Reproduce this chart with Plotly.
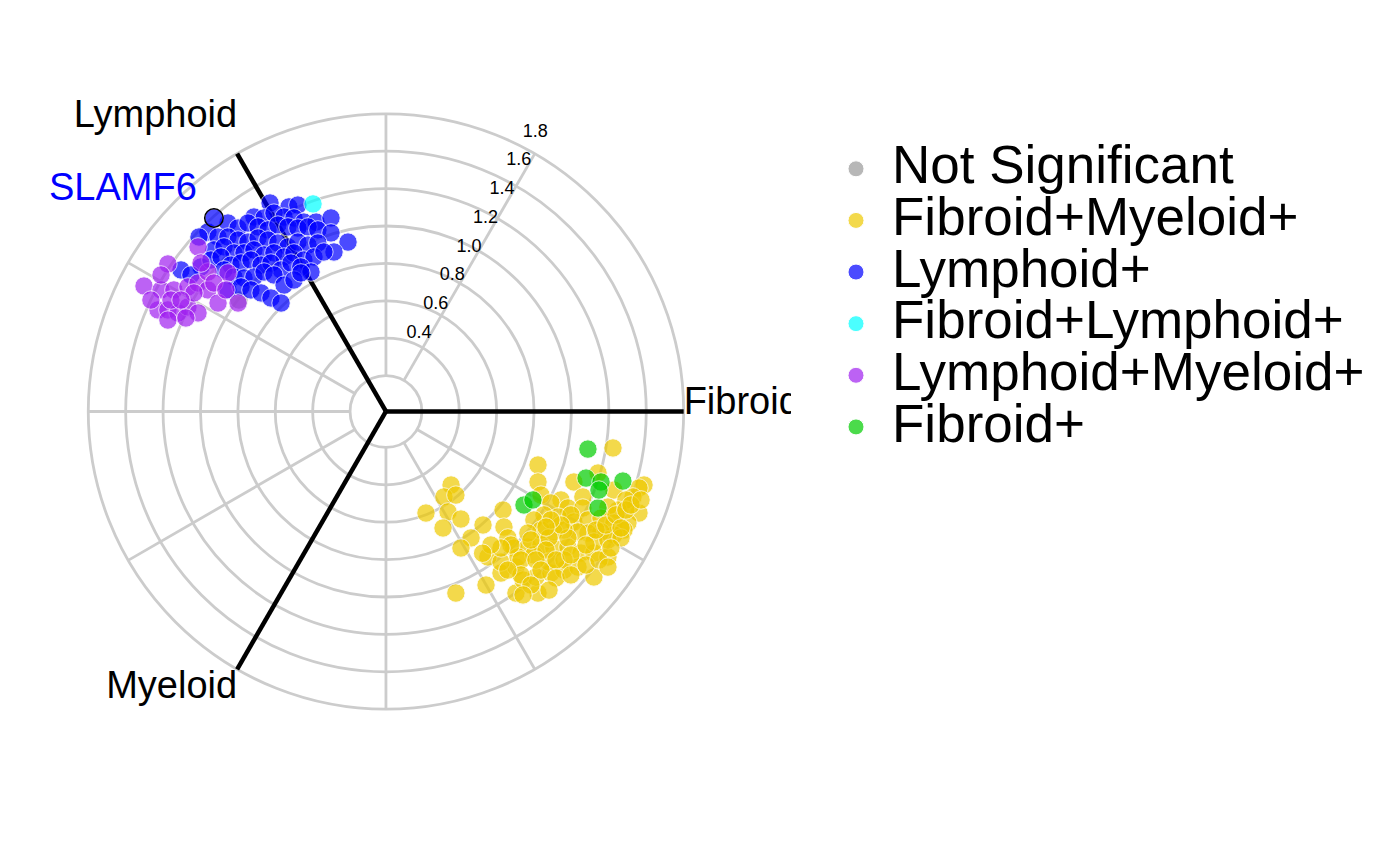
import math
import plotly.graph_objects as go

# ---------------- data (grid units, centre of the radial plot = 0,0) ----------------
categories = ["Not Significant", "Fibroid+Myeloid+", "Lymphoid+",
              "Fibroid+Lymphoid+", "Lymphoid+Myeloid+", "Fibroid+"]
colours = ["#999999", "#EEC900", "#0000FF", "#00FFFF", "#A020F0", "#00CD00"]

ns_x = [-0.786]
ns_y = [0.596]

fm_x = [1.214, 0.813, 0.348, 0.310, 0.374, 0.214, 0.332, 0.401, 0.305, 0.626,
        0.519, 0.631, 0.455, 0.401, 0.652, 0.545, 0.374, 0.535, 0.615, 0.695,
        0.684, 0.759, 0.829, 0.898, 0.973, 1.043, 1.112, 1.187, 0.695, 0.813,
        0.733, 0.802, 0.882, 0.952, 1.027, 1.112, 0.615, 0.872, 0.952, 0.813,
        0.829, 1.005, 1.134, 1.219, 1.380, 1.353, 1.321, 1.283, 1.353, 1.241,
        1.187, 1.053, 0.936, 0.882, 0.973, 1.053, 0.920, 0.845, 0.791, 1.005,
        1.080, 1.150, 1.219, 1.294, 1.273, 1.219, 1.150, 1.080, 1.027, 0.952,
        0.898, 0.829, 0.759, 0.872, 0.973, 1.112, 1.187, 1.257, 0.706, 0.791,
        0.668, 0.722, 0.775, 0.856, 0.909, 0.989, 1.070, 1.123, 1.176, 1.230,
        1.283, 0.989, 0.936, 0.882, 0.856, 0.802, 0.829, 0.909, 0.989, 1.070,
        1.139, 1.203, 1.257, 1.310, 1.364, 0.722, 0.775, 0.872, 0.615, 0.561,
        0.652, 0.733, 1.187, 0.517]
fm_y = [-0.195, -0.286, -0.393, -0.457, -0.447, -0.543, -0.537, -0.575, -0.623, -0.527,
        -0.607, -0.618, -0.676, -0.730, -0.676, -0.778, -0.971, -0.928, -0.864, -0.832,
        -0.730, -0.725, -0.714, -0.730, -0.725, -0.757, -0.757, -0.778, -0.971, -0.971,
        -0.901, -0.885, -0.864, -0.848, -0.832, -0.885, -0.805, -0.805, -0.794, -0.377,
        -0.447, -0.377, -0.329, -0.420, -0.393, -0.409, -0.457, -0.473, -0.543, -0.527,
        -0.511, -0.457, -0.473, -0.489, -0.516, -0.516, -0.564, -0.553, -0.580, -0.591,
        -0.580, -0.570, -0.596, -0.596, -0.634, -0.660, -0.644, -0.650, -0.644, -0.634,
        -0.644, -0.634, -0.650, -0.676, -0.676, -0.698, -0.687, -0.676, -0.778, -0.767,
        -0.714, -0.794, -0.687, -0.741, -0.794, -0.767, -0.714, -0.634, -0.607, -0.553,
        -0.527, -0.553, -0.607, -0.580, -0.618, -0.794, -0.848, -0.890, -0.874, -0.821,
        -0.794, -0.730, -0.623, -0.500, -0.473, -0.874, -0.928, -0.955, -0.730, -0.714,
        -0.848, -0.981, -0.832, -0.758]

l_x = [-0.620, -0.519, -0.471, -0.706, -0.652, -0.599, -0.545, -0.492, -0.439, -0.374, -0.294,
       -0.845, -0.791, -0.738, -0.684, -0.631, -0.578, -0.524, -0.471, -0.417, -0.364, -0.294, -0.203, -0.278,
       -0.952, -0.898, -0.845, -0.791, -0.738, -0.684, -0.631, -0.578, -0.524, -0.471, -0.417, -0.364,
       -0.920, -0.866, -0.813, -0.759, -0.706, -0.652, -0.599, -0.545, -0.492, -0.439, -0.385,
       -0.989, -0.936, -0.882, -0.829, -0.775, -0.722, -0.668, -0.615, -0.561, -0.508, -0.455, -0.401,
       -1.096, -1.043, -0.866, -0.813, -0.759, -0.706, -0.652, -0.599, -0.545, -0.492,
       -0.845, -0.775, -0.722, -0.668, -0.615, -0.561,
       -0.455, -0.332, -1.000, -0.920]
l_y = [1.115, 1.094, 1.104, 1.040, 1.035, 1.061, 1.040, 1.035, 1.013, 1.013, 1.035,
       1.008, 0.981, 1.008, 0.987, 0.971, 0.997, 0.987, 0.981, 0.987, 0.971, 0.955, 0.906, 0.853,
       0.960, 0.933, 0.933, 0.917, 0.906, 0.928, 0.917, 0.901, 0.880, 0.906, 0.890, 0.901,
       0.864, 0.880, 0.848, 0.848, 0.864, 0.837, 0.848, 0.826, 0.848, 0.810, 0.826,
       0.773, 0.810, 0.826, 0.783, 0.794, 0.810, 0.783, 0.794, 0.757, 0.794, 0.773, 0.746,
       0.757, 0.730, 0.757, 0.719, 0.714, 0.719, 0.746, 0.730, 0.676, 0.703,
       0.650, 0.666, 0.650, 0.634, 0.607, 0.580,
       0.741, 0.853, 0.933, 1.035]

fl_x = [-0.390]
fl_y = [1.110]

lm_x = [-1.005, -1.166, -1.294, -1.203, -1.219, -1.166, -1.112, -1.059, -1.005, -1.134,
        -1.059, -1.005, -0.952, -0.898, -0.791, -0.845, -0.952, -0.989, -1.166, -1.027,
        -1.150, -0.920, -1.096, -1.257, -1.203, -1.070, -0.856]
lm_y = [0.880, 0.789, 0.671, 0.650, 0.543, 0.543, 0.527, 0.559, 0.527, 0.650,
        0.666, 0.687, 0.650, 0.580, 0.580, 0.741, 0.746, 0.794, 0.489, 0.634,
        0.596, 0.687, 0.596, 0.596, 0.730, 0.500, 0.650]

f_x = [1.080, 1.070, 1.150, 1.267, 0.738, 0.786, 1.134, 1.139]
f_y = [-0.201, -0.356, -0.377, -0.372, -0.500, -0.473, -0.516, -0.420]

series_x = [ns_x, fm_x, l_x, fl_x, lm_x, f_x]
series_y = [ns_y, fm_y, l_y, fl_y, lm_y, f_y]

label_gene = "SLAMF6"
label_x = -0.920
label_y = 1.035

axis_names = ["Fibroid", "Lymphoid", "Myeloid"]
axis_angles = [0, 120, 240]
r_ticks = [0.4, 0.6, 0.8, 1.0, 1.2, 1.4, 1.6, 1.8]
r_tick_text = ["0.4", "0.6", "0.8", "1.0", "1.2", "1.4", "1.6", "1.8"]

# ---------------- geometry / styling constants ----------------
R_OFFSET = 0.208          # radial value at the plot centre
SPOKES = [60, 90, 150, 180, 210, 270, 300, 330]
TICK_ANGLE = 60
TICK_LABEL_SCALE = 0.887
TICK_LABEL_LIFT = 0.111
FONT = "Liberation Sans, Arial, sans-serif"
GRID = "rgb(204,204,204)"
MARKER_SIZE = 18.5

radii = [t - R_OFFSET for t in r_ticks]
r_in, r_out = radii[0], radii[-1]

fig = go.Figure()

shapes = []
for r in radii:
    shapes.append(dict(type="circle", xref="x", yref="y", x0=-r, y0=-r, x1=r, y1=r,
                       line=dict(color=GRID, width=2.8), layer="below"))
for a in SPOKES:
    c, s = math.cos(math.radians(a)), math.sin(math.radians(a))
    shapes.append(dict(type="line", xref="x", yref="y", x0=r_in * c, y0=r_in * s,
                       x1=r_out * c, y1=r_out * s,
                       line=dict(color=GRID, width=2.8), layer="below"))
for a in axis_angles:
    c, s = math.cos(math.radians(a)), math.sin(math.radians(a))
    shapes.append(dict(type="line", xref="x", yref="y", x0=0, y0=0,
                       x1=r_out * c, y1=r_out * s,
                       line=dict(color="black", width=4.5), layer="below"))

# points
for name, col, xs, ys in zip(categories, colours, series_x, series_y):
    fig.add_trace(go.Scatter(
        x=xs, y=ys, mode="markers",
        name=f"<span style='font-size:53px'>{name}</span>",
        marker=dict(size=MARKER_SIZE, color=col, opacity=0.7,
                    line=dict(color="white", width=1)),
        hoverinfo="skip"))

# labelled gene ring
fig.add_trace(go.Scatter(
    x=[label_x], y=[label_y], mode="markers", showlegend=False, hoverinfo="skip",
    marker=dict(size=MARKER_SIZE, color="rgba(0,0,0,0)", line=dict(color="black", width=1.5))))

# axis labels (text traces so they are clipped by the plot area)
lab_shift = {"Fibroid": 0.0385, "Lymphoid": 0.094, "Myeloid": 0.0}
lab_pos = {"Fibroid": "middle right", "Lymphoid": "top left", "Myeloid": "bottom left"}
ax_x, ax_y, ax_p = [], [], []
for n, a in zip(axis_names, axis_angles):
    ax_x.append(r_out * math.cos(math.radians(a)))
    ax_y.append(r_out * math.sin(math.radians(a)) + lab_shift[n])
    ax_p.append(lab_pos[n])
fig.add_trace(go.Scatter(
    x=ax_x, y=ax_y, mode="text", text=axis_names, textposition=ax_p,
    textfont=dict(family=FONT, size=38, color="black"),
    showlegend=False, hoverinfo="skip", cliponaxis=True))

# radial tick labels
tc, ts = math.cos(math.radians(TICK_ANGLE)), math.sin(math.radians(TICK_ANGLE))
fig.add_trace(go.Scatter(
    x=[TICK_LABEL_SCALE * t * tc for t in r_ticks],
    y=[TICK_LABEL_SCALE * t * ts + TICK_LABEL_LIFT for t in r_ticks],
    mode="text", text=r_tick_text, textposition="middle center",
    textfont=dict(family=FONT, size=18, color="black"),
    showlegend=False, hoverinfo="skip"))

fig.add_annotation(x=label_x, y=label_y, xref="x", yref="y", text=label_gene,
                   showarrow=False, xanchor="right", yanchor="middle",
                   xshift=-15, yshift=31,
                   font=dict(family=FONT, size=38, color="#0000FF"))

fig.update_layout(
    width=1400, height=866,
    margin=dict(l=0, r=0, t=0, b=0, autoexpand=False),
    paper_bgcolor="white", plot_bgcolor="white",
    shapes=shapes,
    xaxis=dict(domain=[0, 791 / 1400], range=[-2.064, 2.166], visible=False,
               showgrid=False, zeroline=False, fixedrange=True),
    yaxis=dict(domain=[0, 1], range=[-2.4305, 2.2005], visible=False,
               showgrid=False, zeroline=False, fixedrange=True),
    legend=dict(x=820 / 1400, xanchor="left", y=1 - 138 / 866, yanchor="top",
                font=dict(family=FONT, size=37.4, color="black"),
                itemwidth=62, bgcolor="rgba(0,0,0,0)"),
    font=dict(family=FONT),
)

fig.write_html("out.html")
